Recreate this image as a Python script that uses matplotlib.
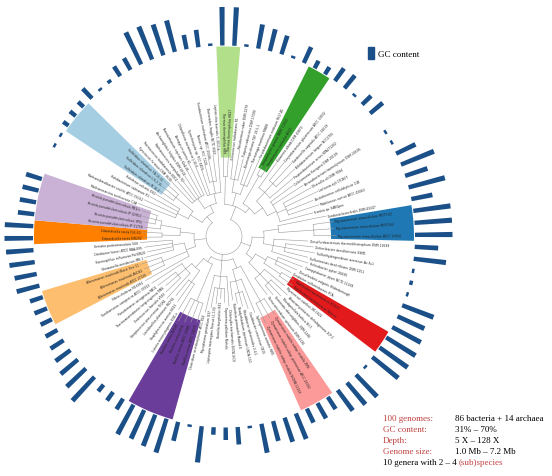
import numpy as np
import matplotlib
matplotlib.use('Agg')
import matplotlib.pyplot as plt
from matplotlib.patches import Patch

# leaves in clockwise order starting at the top
names = [
    'Thermus thermophilus HB8', 'Thermus thermophilus HB27', 'Deinococcus radiodurans R1',
    'Meiothermus ruber DSM 1279', 'Truepera radiovictrix DSM 17093', 'Kosmotoga olearia TBF 19.5.1',
    'Thermotoga maritima MSB8', 'Fervidobacterium nodosum Rt17-B1', 'Streptomyces griseus NBRC 13350',
    'Streptomyces coelicolor A3(2)', 'Kutzneria albida DSM 43870', 'Corynebacterium glutamicum ATCC 13032',
    'Gardnerella vaginalis ATCC 14019', 'Bifidobacterium longum NCC2705', 'Propionibacterium acnes KPA171202',
    'Cellulomonas flavigena DSM 20109', 'Arcanobacterium haemolyticum DSM 20595', 'Olsenella uli DSM 7084',
    'Leifsonia xyli CTCB07', 'Acidothermus cellulolyticus 11B', 'Mobiluncus curtisii ATCC 43063',
    'Frankia sp. EAN1pec', 'Gordonia bronchialis DSM 43247', 'Mycobacterium intracellulare MOTT-02',
    'Mycobacterium intracellulare MOTT-64', 'Mycobacterium intracellulare ATCC 13950',
    'Desulfurobacterium thermolithotrophum DSM 11699', 'Deferribacter desulfuricans SSM1',
    'Sulfurihydrogenibium azorense Az-Fu1', 'Sulfurimonas denitrificans DSM 1251', 'Helicobacter pylori 26695',
    'Campylobacter jejuni NCTC 11168', 'Desulfovibrio vulgaris Hildenborough', 'Geobacter sulfurreducens PCA',
    'Bdellovibrio bacteriovorus HD100', 'Bdellovibrio bacteriovorus Tiberius', 'Myxococcus xanthus DK 1622',
    'Anaeromyxobacter dehalogenans 2CP-C', 'Rhodopirellula baltica SH 1', 'Gemmata obscuriglobus UQM 2246',
    'Verrucomicrobium spinosum DSM 4136', 'Zymomonas mobilis subsp. mobilis ZM4',
    'Zymomonas mobilis subsp. pomaceae ATCC 29192', 'Zymomonas mobilis subsp. mobilis NCIMB 11163',
    'Sphingomonas wittichii RW1', 'Caulobacter crescentus CB15', 'Rhodobacter sphaeroides 2.4.1',
    'Bradyrhizobium japonicum USDA 110', 'Rickettsia prowazekii Madrid E', 'Chlamydia trachomatis D/UW-3/CX',
    'Treponema pallidum Nichols', 'Borrelia burgdorferi B31', 'Leptospira interrogans Fiocruz L1-130',
    'Mycoplasma genitalium G37', 'Clostridium acetobutylicum ATCC 824', 'Bacillus cereus ATCC 14579',
    'Bacillus cereus ATCC 10987', 'Bacillus cereus E33L', 'Bacillus cereus AH187',
    'Listeria monocytogenes EGD-e', 'Staphylococcus aureus N315', 'Lactobacillus plantarum WCFS1',
    'Streptococcus pneumoniae TIGR4', 'Enterococcus faecalis V583', 'Thermoanaerobacter tengcongensis MB4',
    'Pseudomonas aeruginosa PAO1', 'Xanthomonas campestris ATCC 33913', 'Vibrio cholerae N16961',
    'Alteromonas macleodii ATCC 27126', 'Alteromonas macleodii AltDE1', 'Alteromonas macleodii Black Sea 11',
    'Shewanella oneidensis MR-1', 'Haemophilus influenzae Rd KW20', 'Citrobacter koseri ATCC BAA-895',
    'Serratia proteamaculans 568', 'Edwardsiella tarda EIB202', 'Edwardsiella tarda FL6-60',
    'Yersinia pseudotuberculosis IP 31758', 'Yersinia pseudotuberculosis YPIII',
    'Yersinia pseudotuberculosis IP 32953', 'Yersinia pseudotuberculosis PB1/+',
    'Methanosarcina acetivorans C2A', 'Methanobrevibacter smithii ATCC 35061', 'Halobacterium salinarum R1',
    'Haloferax volcanii DS2', 'Sulfolobus islandicus M.16.4', 'Sulfolobus islandicus L.S.2.15',
    'Sulfolobus islandicus Y.N.15.51', 'Pyrococcus furiosus DSM 3638', 'Thermococcus kodakarensis KOD1',
    'Methanococcus maripaludis S2', 'Archaeoglobus fulgidus DSM 4304', 'Nanoarchaeum equitans Kin4-M',
    'Aeropyrum pernix K1', 'Chloroflexus aurantiacus J-10-fl', 'Synechocystis sp. PCC 6803',
    'Nostoc sp. PCC 7120', 'Fusobacterium nucleatum ATCC 25586', 'Bacteroides fragilis NCTC 9343',
    'Leptotrichia buccalis C-1013-b',
]

# GC content (%), nan = no bar
gc = np.array([
    68, 68, 32, 54, 52, 49, 32, 47, 38, 38,
    45, 46, 32, 42, 46, np.nan, 32, 32, 51, 65,
    53, 67, 51, 67, 67, 67, 53, 62, 32, 33,
    32, 63, 59, 62, 64, 64, 63, 32, 60, 58,
    55, 44, 47, 45, 57, 55, 50, 59, 32, 47,
    42, 37, 66, 32, 49, 65, 63, 61, 63, 42,
    40, 38, 62, 56, 52, 48, 45, 43, 42, 43,
    43, 53, 52, 55, 57, 58, 58, 46, 46, 46,
    46, np.nan, np.nan, 32, 32, 36, 37, 37, 43, 32,
    33, 41, 43, 65, 65, 62, 62, 44, 47, 32,
])

# distance of each leaf tip from the root
tip_r = np.array([
    82, 84, 76, 88, 80, 72, 78, 86, 80, 82,
    92, 96, 100, 98, 90, 86, 94, 100, 104, 96,
    100, 92, 104, 110, 110, 112, 84, 90, 92, 86,
    88, 84, 80, 76, 82, 84, 78, 86, 82, 76,
    72, 92, 94, 96, 82, 76, 72, 68, 64, 70,
    66, 62, 68, 72, 78, 90, 92, 94, 96, 86,
    80, 76, 84, 80, 76, 82, 86, 90, 84, 86,
    88, 82, 78, 80, 84, 80, 82, 80, 82, 84,
    86, 92, 88, 84, 80, 78, 80, 82, 76, 72,
    68, 72, 76, 80, 74, 70, 74, 78, 82, 86,
])

# internal nodes: (first leaf, last leaf, node distance)
clades = [
    (0, 99, 18),
    (0, 21, 32), (0, 1, 60), (2, 7, 45), (2, 4, 58), (5, 7, 55),
    (8, 21, 38), (8, 9, 70), (10, 21, 48), (10, 14, 60), (11, 13, 72), (15, 21, 58), (17, 20, 68),
    (22, 40, 28), (22, 30, 40), (22, 25, 55), (23, 25, 90), (26, 30, 50), (27, 29, 62),
    (31, 40, 36), (31, 35, 48), (34, 35, 68), (31, 33, 58), (36, 40, 52), (37, 39, 64),
    (41, 66, 24), (41, 48, 34), (41, 43, 74), (44, 48, 46), (45, 47, 58),
    (49, 54, 40), (50, 53, 52), (55, 66, 30), (55, 58, 70), (59, 66, 42), (59, 61, 56),
    (62, 66, 50), (63, 65, 60),
    (67, 80, 30), (67, 74, 40), (68, 70, 66), (71, 74, 52), (75, 80, 44), (75, 76, 62),
    (77, 80, 64), (78, 80, 70),
    (81, 99, 26), (81, 87, 40), (85, 87, 62), (81, 84, 52), (88, 99, 34), (88, 93, 46),
    (94, 99, 44), (96, 98, 56),
]

# highlighted genera: (first leaf, last leaf, colour)
highlights = [
    (0, 1, '#b2df8a'), (8, 9, '#33a02c'), (23, 25, '#1f78b4'), (34, 35, '#e31a1c'),
    (41, 43, '#fb9a99'), (55, 58, '#6a3d9a'), (68, 70, '#fdbf6f'), (75, 76, '#ff7f00'),
    (77, 80, '#cab2d6'), (85, 87, '#a6cee3'),
]

n = len(names)
theta = np.deg2rad(90.5 - 3.6 * np.arange(n))
step = np.deg2rad(3.6)
ring = 191
bar_col = '#1b4f88'
line_col = '#9a9a9a'

fig = plt.figure(figsize=(5.52, 4.77), dpi=100)
ax = fig.add_axes([-11 / 552, 4.5 / 477, 470 / 552, 470 / 477], projection='polar')
ax.set_ylim(0, 235)
ax.axis('off')

# clade highlight wedges
for a, b, col in highlights:
    r0 = tip_r[a:b + 1].min() - 3
    ax.bar((theta[a] + theta[b]) / 2, ring - 1 - r0, width=(b - a + 1) * step,
           bottom=r0, color=col, lw=0, zorder=1)

# tree
pos = {i: (theta[i], tip_r[i]) for i in range(n)}
rep = list(range(n))
node = n
for a, b, r in sorted(clades, key=lambda c: c[1] - c[0]):
    kids = []
    for i in range(a, b + 1):
        if rep[i] not in kids:
            kids.append(rep[i])
    for k in kids:
        t, cr = pos[k]
        ax.plot([t, t], [r, cr], color=line_col, lw=0.4, zorder=2)
    ts = np.linspace(pos[kids[0]][0], pos[kids[-1]][0], 80)
    ax.plot(ts, np.full_like(ts, r), color=line_col, lw=0.4, zorder=2)
    pos[node] = ((pos[kids[0]][0] + pos[kids[-1]][0]) / 2, r)
    for i in range(a, b + 1):
        rep[i] = node
    node += 1

# leaf labels
for i in range(n):
    deg = np.rad2deg(theta[i]) % 360
    if 90 < deg < 270:
        rot, ha = deg - 180, 'right'
    else:
        rot, ha = deg, 'left'
    ax.text(theta[i], tip_r[i] + 2, names[i], rotation=rot, ha=ha, va='center',
            rotation_mode='anchor', fontsize=2.2, color='#222222', zorder=3)

# GC content ring
m = ~np.isnan(gc)
ax.bar(theta[m], gc[m] - 29.5, width=np.deg2rad(1.3), bottom=ring,
       color=bar_col, lw=0, zorder=2)

serif = {'family': 'Liberation Serif', 'size': 6.5}
fig.legend(handles=[Patch(color=bar_col)], labels=['GC content'], loc='center left',
           bbox_to_anchor=(368 / 552, 1 - 54 / 477), frameon=False, prop=serif,
           handlelength=0.65, handleheight=1.5, handletextpad=0.5,
           borderpad=0, borderaxespad=0)

# summary box
red = '#c0403f'
rows = [('100 genomes:', '86 bacteria + 14 archaea'),
        ('GC content:', '31% \u2013 70%'),
        ('Depth:', '5 X \u2013 128 X'),
        ('Genome size:', '1.0 Mb \u2013 7.2 Mb')]
for j, (lab, val) in enumerate(rows):
    y = 1 - (419 + 11 * j) / 477
    fig.text(383 / 552, y, lab, color=red, va='center', fontdict=serif)
    fig.text(455 / 552, y, val, color='black', va='center', fontdict=serif)
y = 1 - 463 / 477
t1 = fig.text(383 / 552, y, '10 genera with 2 \u2013 4 ', color='black', va='center', fontdict=serif)
fig.canvas.draw()
bb = t1.get_window_extent(renderer=fig.canvas.get_renderer())
fig.text(bb.x1 / fig.bbox.width, y, '(sub)species', color=red, va='center', fontdict=serif)

fig.savefig('out.png', dpi=100)
